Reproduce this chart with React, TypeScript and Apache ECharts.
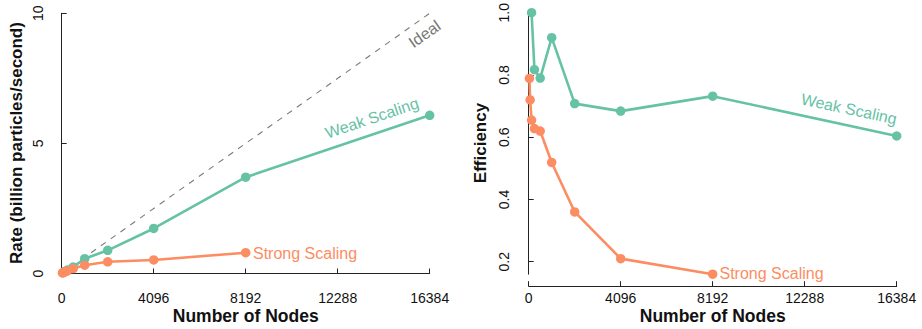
import React, { useEffect, useRef } from "react";
import * as echarts from "echarts";

const weakNodes = [128, 256, 512, 1024, 2048, 4096, 8192, 16384];
const weakRate = [0.08, 0.13, 0.25, 0.57, 0.89, 1.73, 3.7, 6.08];
const weakEff = [1.0, 0.817, 0.79, 0.92, 0.708, 0.684, 0.732, 0.604];

const strongNodes = [32, 64, 128, 256, 512, 1024, 2048, 4096, 8192];
const strongRate = [0.02, 0.03, 0.05, 0.1, 0.19, 0.32, 0.45, 0.52, 0.8];
const strongEff = [0.789, 0.72, 0.655, 0.628, 0.62, 0.519, 0.36, 0.21, 0.16];

const idealNodes = [0, 16384];
const idealRate = [0, 10];

const xTicks = [0, 4096, 8192, 12288, 16384];
const effTicks = [0.2, 0.4, 0.6, 0.8, 1.0];

const GREEN = "#66c2a5";
const ORANGE = "#fc8d62";
const FONT = "'Liberation Sans', Arial, Helvetica, sans-serif";

const zip = (a: number[], b: number[]) => a.map((v, i) => [v, b[i]]);

export default function App() {
  const ref = useRef<HTMLDivElement>(null);
  useEffect(() => {
    if (!ref.current) return;
    const chart = echarts.init(ref.current, null, { renderer: "svg" });
    const axisLine = { show: true, lineStyle: { color: "#222", width: 1 } };
    const axisTick = { show: true, inside: true, length: 5, lineStyle: { color: "#222", width: 1 } };
    const xAxisBase = {
      type: "value",
      min: 0,
      max: 16384,
      offset: 12,
      axisLine,
      axisTick: { ...axisTick, customValues: xTicks },
      splitLine: { show: false },
      axisLabel: {
        color: "#111",
        fontSize: 14,
        fontFamily: FONT,
        margin: 5,
        customValues: xTicks,
        formatter: (v: number) => String(v),
      },
    };
    const lineSeries = (name: string, color: string, data: number[][], xi: number, yi: number) => ({
      name,
      type: "line",
      xAxisIndex: xi,
      yAxisIndex: yi,
      data,
      symbol: "circle",
      symbolSize: 9.5,
      clip: false,
      itemStyle: { color },
      lineStyle: { color, width: 2.6 },
    });
    const txt = (text: string, x: number, y: number, opts: any = {}) => ({
      type: "text",
      x,
      y,
      rotation: opts.rotation || 0,
      style: {
        text,
        fill: opts.color || "#111",
        font: `${opts.bold ? "bold " : ""}${opts.size || 16}px ${FONT}`,
        align: opts.align || "center",
        verticalAlign: "middle",
      },
    });
    chart.setOption({
      animation: false,
      grid: [
        { left: 61.7, right: 492.3, top: 13.3, bottom: 55.5 },
        { left: 528.7, right: 25.3, top: 11, bottom: 54.8 },
      ],
      xAxis: [
        { ...xAxisBase, gridIndex: 0 },
        { ...xAxisBase, gridIndex: 1 },
      ],
      yAxis: [
        {
          type: "value",
          gridIndex: 0,
          min: 0,
          max: 10,
          interval: 5,
          offset: 12.7,
          axisLine,
          axisTick,
          splitLine: { show: false },
          axisLabel: { color: "#111", fontSize: 14, fontFamily: FONT, rotate: 90, margin: 4 },
        },
        {
          type: "value",
          gridIndex: 1,
          min: 0.16,
          max: 1.0,
          offset: 13.7,
          axisLine,
          axisTick: { ...axisTick, customValues: effTicks },
          splitLine: { show: false },
          axisLabel: {
            color: "#111",
            fontSize: 14,
            fontFamily: FONT,
            rotate: 90,
            margin: 4,
            customValues: effTicks,
            formatter: (v: number) => v.toFixed(1),
          },
        },
      ],
      series: [
        {
          name: "Ideal",
          type: "line",
          xAxisIndex: 0,
          yAxisIndex: 0,
          data: zip(idealNodes, idealRate),
          symbol: "none",
          clip: false,
          lineStyle: { color: "#7a7a7a", width: 1.1, type: [6, 6] },
        },
        lineSeries("Weak Scaling", GREEN, zip(weakNodes, weakRate), 0, 0),
        lineSeries("Strong Scaling", ORANGE, zip(strongNodes, strongRate), 0, 0),
        lineSeries("Weak Scaling", GREEN, zip(weakNodes, weakEff), 1, 1),
        lineSeries("Strong Scaling", ORANGE, zip(strongNodes, strongEff), 1, 1),
      ],
      graphic: [
        txt("Rate (billion particles/second)", 16, 143, { bold: true, size: 17, rotation: Math.PI / 2 }),
        txt("Number of Nodes", 245.7, 316, { bold: true, size: 17.5 }),
        txt("Efficiency", 480, 143, { bold: true, size: 17, rotation: Math.PI / 2 }),
        txt("Number of Nodes", 712.7, 316, { bold: true, size: 17.5 }),
        txt("Ideal", 424.5, 34, { color: "#777", rotation: (35 * Math.PI) / 180 }),
        txt("Weak Scaling", 372, 118, { color: GREEN, rotation: (18.6 * Math.PI) / 180 }),
        txt("Strong Scaling", 253, 253.3, { color: ORANGE, align: "left" }),
        txt("Weak Scaling", 849, 109, { color: GREEN, rotation: (-12 * Math.PI) / 180 }),
        txt("Strong Scaling", 719.5, 273.5, { color: ORANGE, align: "left" }),
      ],
    });
    return () => chart.dispose();
  }, []);
  return <div ref={ref} style={{ width: 922, height: 329, position: "absolute", left: 0, top: 0 }} />;
}
